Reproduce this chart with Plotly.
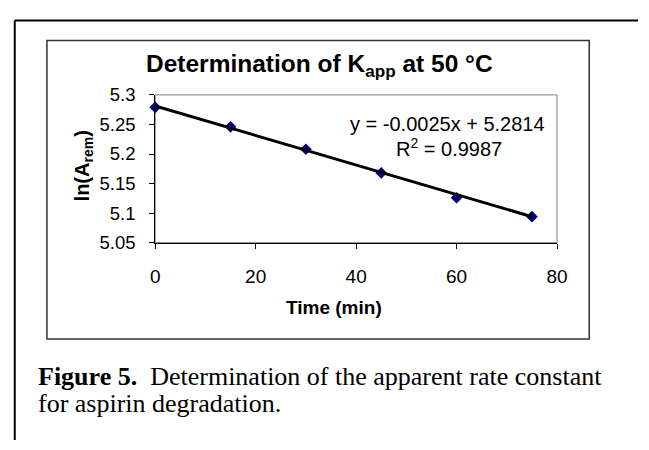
import plotly.graph_objects as go

# ---- data ----
TIME_MIN = [0, 15, 30, 45, 60, 75]
LN_A_REM = [5.279, 5.246, 5.208, 5.168, 5.126, 5.094]
FIT_SLOPE = -0.0025
FIT_INTERCEPT = 5.2814
R_SQUARED = 0.9987
Y_TICKS = [5.05, 5.1, 5.15, 5.2, 5.25, 5.3]
Y_TICK_TEXT = ["5.05", "5.1", "5.15", "5.2", "5.25", "5.3"]
X_TICKS = [0, 20, 40, 60, 80]

W, H = 649, 450


def px(x):
    return x / W


def py(y):
    return 1 - y / H


fit_x = [TIME_MIN[0], TIME_MIN[-1]]
fit_y = [FIT_SLOPE * v + FIT_INTERCEPT for v in fit_x]

fig = go.Figure()
fig.add_trace(go.Scatter(x=TIME_MIN, y=LN_A_REM, mode="markers",
                         marker=dict(symbol="diamond", size=9, color="#000080",
                                     line=dict(width=0)),
                         showlegend=False, cliponaxis=False))
fig.add_trace(go.Scatter(x=fit_x, y=fit_y, mode="lines",
                         line=dict(color="black", width=3),
                         showlegend=False))

PL, PR, PT, PB = 154, 566, 88, 243

fig.update_layout(
    width=W, height=H,
    margin=dict(l=0, r=0, t=0, b=0),
    paper_bgcolor="white", plot_bgcolor="white",
    font=dict(family="Liberation Sans, Arial, sans-serif", color="black"),
    xaxis=dict(domain=[px(PL), px(PR)], range=[0, 80], tickvals=X_TICKS,
               showgrid=False, zeroline=False, showline=True, linecolor="black",
               linewidth=1, ticks="outside", ticklen=5, tickcolor="black",
               tickfont=dict(size=19), ticklabelstandoff=12),
    yaxis=dict(domain=[py(PB), py(PT)], range=[5.05, 5.3], tickvals=Y_TICKS,
               ticktext=Y_TICK_TEXT, showgrid=False, zeroline=False,
               showline=True, linecolor="black", linewidth=1, ticks="outside",
               ticklen=5, tickcolor="black", tickfont=dict(size=18.5),
               ticklabelstandoff=10),
)

shapes = [
    # plot-area border (grey)
    dict(type="rect", xref="x domain", yref="y domain", x0=0, x1=1, y0=0, y1=1,
         line=dict(color="#808080", width=1), layer="below"),
    # chart box
    dict(type="rect", xref="paper", yref="paper", x0=px(43), x1=px(599),
         y0=py(344), y1=py(31), line=dict(color="#333333", width=1.5)),
    # outer frame top & left
    dict(type="line", xref="paper", yref="paper", x0=px(10), x1=1,
         y0=py(10), y1=py(10), line=dict(color="black", width=2)),
    dict(type="line", xref="paper", yref="paper", x0=px(10), x1=px(10),
         y0=py(10), y1=0, line=dict(color="black", width=2)),
]
fig.update_layout(shapes=shapes)

SERIF = "Liberation Serif, Times New Roman, serif"
ann = [
    dict(text="<b>Determination of K<sub>app</sub> at 50 °C</b>", x=px(322), y=py(57),
         font=dict(size=24.5)),
    dict(text=f"y = {FIT_SLOPE}x + {FIT_INTERCEPT}", x=px(454), y=py(119),
         font=dict(size=20)),
    dict(text=f"R<sup>2</sup> = {R_SQUARED}", x=px(455), y=py(143),
         font=dict(size=20)),
    dict(text="<b>Time (min)</b>", x=px(337), y=py(311), font=dict(size=19)),
    dict(text="<b>ln(A<sub>rem</sub>)</b>", x=px(80), y=py(163), font=dict(size=20),
         textangle=-90),
    dict(text="<b>Figure 5.</b>\u00a0 Determination of the apparent rate constant",
         x=px(32), y=py(383), xanchor="left", font=dict(size=26, family=SERIF)),
    dict(text="for aspirin degradation.",
         x=px(32), y=py(412), xanchor="left", font=dict(size=26, family=SERIF)),
]
for a in ann:
    a.setdefault("xanchor", "center")
    a.update(xref="paper", yref="paper", showarrow=False, yanchor="middle")
fig.update_layout(annotations=ann)

fig.write_html("out.html",
               config={"displayModeBar": False, "staticPlot": True},
               post_script="document.body.style.margin='0';"
                           "document.body.style.overflow='hidden';")
